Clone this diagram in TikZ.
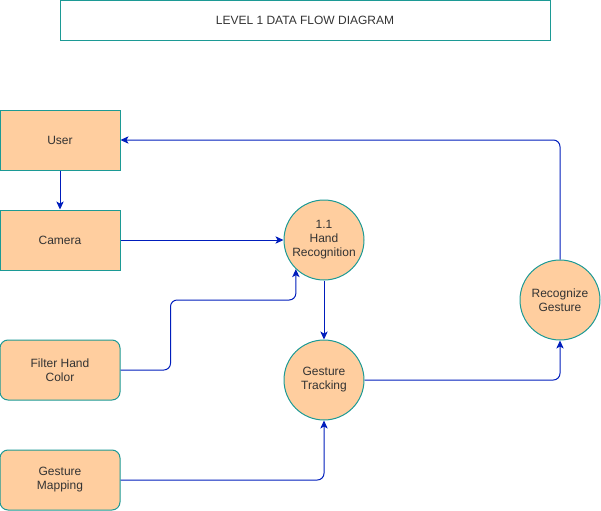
\documentclass[tikz,border=0pt]{standalone}
\usepackage{fontspec}
\setmainfont{Liberation Sans}
\usetikzlibrary{arrows.meta}
\usetikzlibrary{calc}
\definecolor{boxfill}{HTML}{FFCE9F}
\definecolor{boxline}{HTML}{1C9A95}
\definecolor{flowline}{HTML}{001DBC}
\definecolor{txt}{HTML}{333333}

\begin{document}
\begin{tikzpicture}[>={Stealth[length=6pt,width=5.5pt,inset=1.5pt]},x=0.75pt,y=-0.75pt,line width=0.75pt,
      every node/.style={font=\fontsize{9pt}{10.5pt}\selectfont,text=txt,align=center},
      entity/.style={draw=boxline,fill=boxfill,minimum width=90pt,minimum height=45pt,inner sep=0pt},
      soft entity/.style={entity,rounded corners=6pt},
      process/.style={circle,draw=boxline,fill=boxfill,minimum size=60pt,inner sep=0pt},
      flow/.style={->,draw=flowline,rounded corners=5pt}]
    \useasboundingbox (0,0) rectangle (601,511);
    \node[draw=boxline,minimum width=367.5pt,minimum height=30pt,inner sep=0pt] (title) at (305,20) {LEVEL 1 DATA FLOW DIAGRAM};
    \node[entity] (User) at (60,140) {User};
    \node[entity] (Camera) at (60,240) {Camera};
    \node[soft entity] (Filter) at (60,370) {Filter Hand\\Color};
    \node[soft entity] (Mapping) at (60,480) {Gesture\\Mapping};
    \node[process] (HandRec) at (324,240) {1.1\\Hand\\Recognition};
    \node[process] (Tracking) at (324,380) {Gesture\\Tracking};
    \node[process] (Recognize) at (560,300) {Recognize\\Gesture};
    \draw[flow] (User) -- (Camera);
    \draw[flow] (Camera) -- (HandRec);
    \draw[flow] (Filter.east) -- ++(50,0) -- ++(0,-70) -| (HandRec.-134);
    \draw[flow] (HandRec) -- (Tracking);
    \draw[flow] (Mapping.east) -| (Tracking.south);
    \draw[flow] (Tracking.east) -| (Recognize.south);
    \draw[flow] (Recognize.north) |- (User.east);
\end{tikzpicture}
\end{document}
